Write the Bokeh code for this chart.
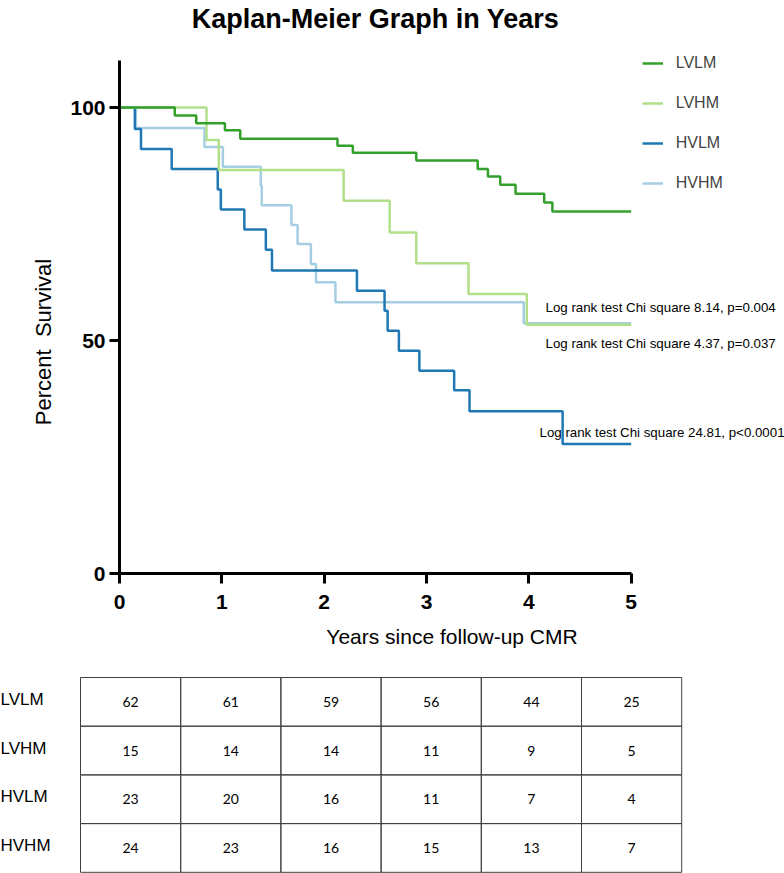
import numpy as np
from bokeh.plotting import figure
from bokeh.models import Range1d, FixedTicker, Label, Legend, LegendItem, ColumnDataSource, LinearAxis
from bokeh.embed import file_html
from bokeh.resources import INLINE
from bokeh.core.properties import value

# ---------------- data ----------------
series_names = ["LVLM", "LVHM", "HVLM", "HVHM"]

lvlm_times = [0.54, 0.75, 1.03, 1.18, 2.13, 2.28, 2.90, 3.50, 3.60, 3.72, 3.87, 4.15, 4.23]
lvlm_surv = [98.3, 96.6, 95.1, 93.3, 91.8, 90.3, 88.6, 86.8, 85.2, 83.4, 81.5, 79.6, 77.7]

lvhm_times = [0.85, 0.97, 2.19, 2.64, 2.90, 3.41, 3.98]
lvhm_surv = [93.0, 86.6, 80.0, 73.2, 66.6, 60.0, 53.4]

hvlm_times = [0.15, 0.21, 0.51, 0.96, 0.99, 1.22, 1.43, 1.49, 2.32, 2.59, 2.62, 2.73, 2.93, 3.27, 3.42, 4.33]
hvlm_surv = [95.4, 91.1, 86.8, 82.4, 78.1, 73.8, 69.5, 65.0, 60.7, 56.4, 52.1, 47.8, 43.5, 39.3, 34.8, 27.8]

hvhm_times = [0.16, 0.83, 1.01, 1.38, 1.39, 1.68, 1.74, 1.87, 1.92, 2.11, 3.95]
hvhm_surv = [95.6, 91.5, 87.3, 83.2, 79.0, 74.8, 70.7, 66.4, 62.5, 58.2, 53.7]

follow_up_end = 5
x_ticks = [0, 1, 2, 3, 4, 5]
y_ticks = [0, 50, 100]

at_risk_lvlm = [62, 61, 59, 56, 44, 25]
at_risk_lvhm = [15, 14, 14, 11, 9, 5]
at_risk_hvlm = [23, 20, 16, 11, 7, 4]
at_risk_hvhm = [24, 23, 16, 15, 13, 7]

logrank_texts = [
    "Log rank test Chi square 8.14, p=0.004",
    "Log rank test Chi square 4.37, p=0.037",
    "Log rank test Chi square 24.81, p<0.0001",
]

title_text = "Kaplan-Meier Graph in Years"
x_label = "Years since follow-up CMR"
y_label = "Percent  Survival"

colors = {"LVLM": "#33a02c", "LVHM": "#b2df8a", "HVLM": "#1f78b4", "HVHM": "#a6cee3"}

FONT = "Liberation Sans"
W = 784
H1 = 668
H2 = 205

# ---------------- survival plot ----------------
PX_X = 102.34   # pixels per year
PX_Y = 4.66     # pixels per percent
LEFT = 119
BOTTOM = 95
frame_w = W - LEFT
frame_h = H1 - BOTTOM


def dx(cx):  # canvas x -> data x
    return (cx - LEFT) / PX_X


def dy(cy):  # canvas y -> data y
    return (frame_h - cy) / PX_Y


p = figure(width=W, height=H1,
           x_range=Range1d(0, frame_w / PX_X), y_range=Range1d(0, frame_h / PX_Y),
           output_backend="svg", toolbar_location=None,
           min_border_left=LEFT, min_border_right=0, min_border_top=0, min_border_bottom=BOTTOM)
p.grid.visible = False
p.outline_line_color = None
p.background_fill_color = "white"

series = {
    "LVLM": (lvlm_times, lvlm_surv),
    "LVHM": (lvhm_times, lvhm_surv),
    "HVLM": (hvlm_times, hvlm_surv),
    "HVHM": (hvhm_times, hvhm_surv),
}

rends = {}
for name in ["HVHM", "HVLM", "LVHM", "LVLM"]:
    t_, s_ = series[name]
    xs = [0] + list(t_) + [follow_up_end]
    ys = [100] + list(s_) + [s_[-1]]
    rends[name] = p.step(xs, ys, mode="after", line_color=colors[name], line_width=2.5)

xa = p.xaxis[0]
ya = p.yaxis[0]
xa.bounds = (0, 5)
ya.bounds = (0, 110)
xa.ticker = FixedTicker(ticks=x_ticks)
ya.ticker = FixedTicker(ticks=y_ticks)
for ax in (xa, ya):
    ax.axis_line_width = 3
    ax.axis_line_color = "black"
    ax.major_tick_line_width = 3
    ax.major_tick_line_color = "black"
    ax.major_tick_in = 0
    ax.major_tick_out = 10
    ax.minor_tick_line_color = None
    ax.major_label_text_font = FONT
    ax.major_label_text_font_size = "21px"
    ax.major_label_text_font_style = "bold"
    ax.major_label_text_color = "black"
xa.major_label_standoff = 11
ya.major_label_standoff = 4
xa.axis_label = x_label
xa.axis_label_text_font = FONT
xa.axis_label_text_font_size = "21px"
xa.axis_label_text_font_style = "normal"
xa.axis_label_text_color = "black"
xa.axis_label_standoff = 13

# label-only axis carrying the y title; trailing no-break spaces move the
# visible words from the frame centre down to the 50 % level
ylab_text = y_label.replace("  ", "\u00a0 ") + "\u00a0" * 18
ylab_axis = LinearAxis(bounds=(0, 100), ticker=FixedTicker(ticks=[]),
                       axis_line_color=None, major_tick_line_color=None,
                       minor_tick_line_color=None, major_tick_out=0, major_tick_in=0,
                       major_label_text_font_size="0px",
                       axis_label=ylab_text, axis_label_text_font=FONT,
                       axis_label_text_font_size="22px", axis_label_text_font_style="normal",
                       axis_label_text_color="black", axis_label_standoff=12)
p.add_layout(ylab_axis, "left")

p.add_layout(Label(x=dx(375), y=dy(18), text=title_text,
                   text_align="center", text_baseline="middle",
                   text_font=FONT, text_font_size="27px", text_font_style="bold",
                   text_color="black"))

lr_pos = [(545, 307), (545, 343), (539, 432)]
for txt, (cx, cy) in zip(logrank_texts, lr_pos):
    p.add_layout(Label(x=dx(cx), y=dy(cy), text=txt, text_align="left",
                       text_baseline="middle", text_font=FONT,
                       text_font_size="13.3px", text_color="black"))

legend = Legend(items=[LegendItem(label=n, renderers=[rends[n]]) for n in series_names],
                location=(522.7, 380.5), glyph_width=21, glyph_height=20,
                label_height=20, label_standoff=13, spacing=20, padding=0, margin=0,
                border_line_color=None, background_fill_alpha=0,
                label_text_font=FONT, label_text_font_size="16px")
p.add_layout(legend)

# ---------------- at-risk table ----------------
COL_W = 100.2
COL0 = 130.1
ROW_H = 48.7
TOP = 9
t = figure(width=W, height=H2,
           x_range=Range1d(-COL0 / COL_W, (W - COL0) / COL_W),
           y_range=Range1d((H2 - TOP) / ROW_H - 0.5, -TOP / ROW_H - 0.5),
           x_axis_location=None, y_axis_location=None,
           output_backend="svg", toolbar_location=None,
           min_border_left=0, min_border_right=0, min_border_top=0, min_border_bottom=0)
t.grid.visible = False
t.outline_line_color = None

table = [at_risk_lvlm, at_risk_lvhm, at_risk_hvlm, at_risk_hvhm]
cx, cy, ct = [], [], []
for r, row in enumerate(table):
    for c, v in enumerate(row):
        cx.append(c)
        cy.append(r)
        ct.append(str(v))
src = ColumnDataSource(dict(x=cx, y=cy, text=ct))
t.rect(x="x", y="y", width=1, height=1, source=src, fill_color=None,
       line_color="#404040", line_width=1)
t.text(x="x", y="y", text="text", source=src, text_align="center",
       text_baseline="middle", text_font=value("Lato"), text_font_size="14px",
       text_color="black")
t.text(x=[-COL0 / COL_W] * 4, y=[r - 0.05 for r in range(4)], text=series_names,
       text_align="left", text_baseline="middle", text_font=value(FONT),
       text_font_size="17px", text_color="black")

open("out.html", "w").write(file_html([p, t], INLINE))
